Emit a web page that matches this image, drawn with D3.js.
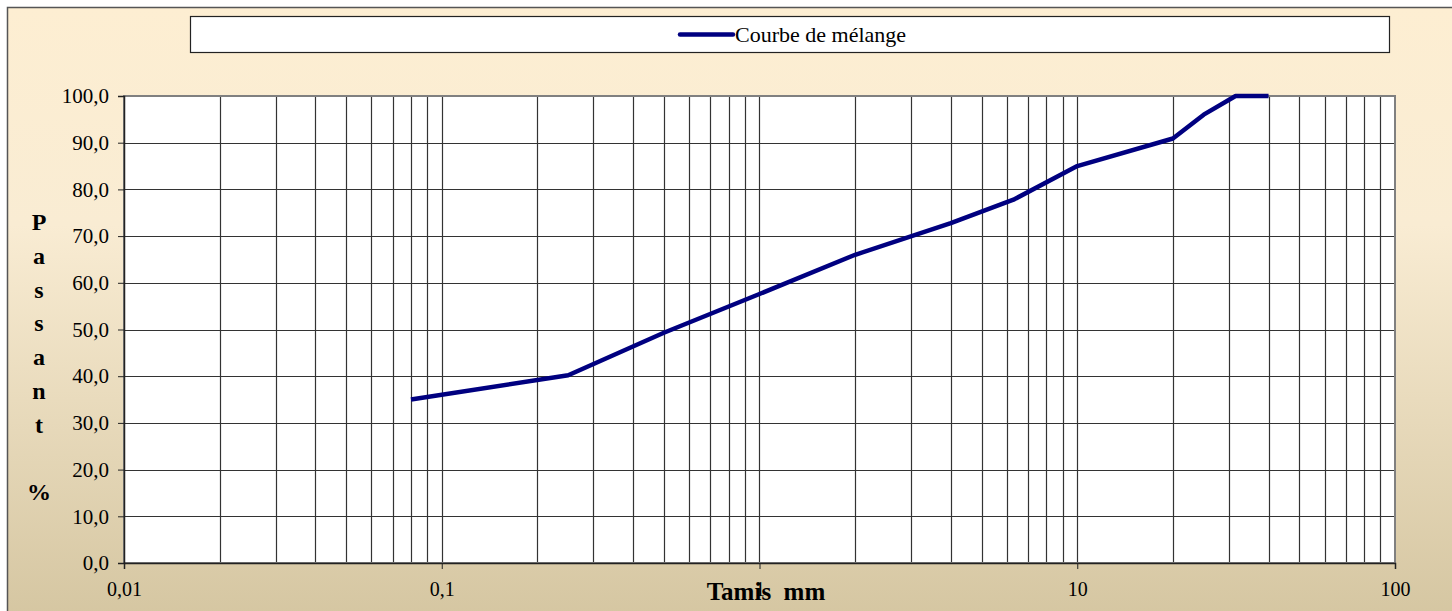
<!DOCTYPE html>
<html>
<head>
<meta charset="utf-8">
<script src="https://cdn.jsdelivr.net/npm/d3@7"></script>
<style>
  body { margin: 0; background: #fff; }
  svg { display: block; }
  svg text { font-family: "Liberation Serif", serif; }
</style>
</head>
<body>
<script>
// sieve sizes (mm) and cumulative passing (%)
var sieves = [0.08, 0.25, 0.5, 1, 2, 4, 6.3, 10, 20, 25, 31.5, 40];
var passing = [35.0, 40.2, 49.3, 57.6, 66.0, 72.8, 77.8, 85.0, 90.9, 96.0, 100, 100];

var xTicks = [0.01, 0.1, 1, 10, 100];
var xTickLabels = ["0,01", "0,1", "1", "10", "100"];
var yTicks = [0, 10, 20, 30, 40, 50, 60, 70, 80, 90, 100];
var seriesName = "Courbe de mélange";
var yTitle = ["P", "a", "s", "s", "a", "n", "t", "", "%"];

var W = 1452, H = 611;
var plot = {left: 124, right: 1395, top: 96, bottom: 563};

var svg = d3.select("body").append("svg")
  .attr("width", W)
  .attr("height", H);

// background gradient
var grad = svg.append("defs").append("linearGradient")
  .attr("id", "bg").attr("x1", 0).attr("y1", 0).attr("x2", 0).attr("y2", 1);
grad.append("stop").attr("offset", "0%").attr("stop-color", "#fdeed2");
grad.append("stop").attr("offset", "35%").attr("stop-color", "#f9ecd3");
grad.append("stop").attr("offset", "100%").attr("stop-color", "#d4c5a0");

svg.append("rect")
  .attr("x", 7.5).attr("y", 7.5)
  .attr("width", W + 10).attr("height", H + 10)
  .attr("fill", "url(#bg)")
  .attr("stroke", "#555").attr("stroke-width", 1.5);

var x = d3.scaleLog().domain([0.01, 100]).range([plot.left, plot.right]);
var y = d3.scaleLinear().domain([0, 100]).range([plot.bottom, plot.top]);

// plot area
svg.append("rect")
  .attr("x", plot.left).attr("y", plot.top)
  .attr("width", plot.right - plot.left).attr("height", plot.bottom - plot.top)
  .attr("fill", "#fff");

// vertical grid on every log step
var minor = x.ticks().filter(function(d) { return d > 0.01 && d < 100; });
svg.append("g").selectAll("line")
  .data(minor)
  .enter().append("line")
    .attr("x1", function(d) { return Math.round(x(d)) + 0.5; })
    .attr("x2", function(d) { return Math.round(x(d)) + 0.5; })
    .attr("y1", plot.top).attr("y2", plot.bottom)
    .attr("stroke", "#333").attr("stroke-width", 1.2);

// horizontal grid
svg.append("g").selectAll("line")
  .data(yTicks.slice(1, -1))
  .enter().append("line")
    .attr("x1", plot.left).attr("x2", plot.right)
    .attr("y1", function(d) { return Math.round(y(d)) + 0.5; })
    .attr("y2", function(d) { return Math.round(y(d)) + 0.5; })
    .attr("stroke", "#333").attr("stroke-width", 1.2);

// plot border
svg.append("rect")
  .attr("x", plot.left).attr("y", plot.top)
  .attr("width", plot.right - plot.left).attr("height", plot.bottom - plot.top)
  .attr("fill", "none").attr("stroke", "#808080").attr("stroke-width", 2);

// y axis
var yAxis = d3.axisLeft(y)
  .tickValues(yTicks)
  .tickSize(6)
  .tickPadding(9)
  .tickFormat(function(d) { return d3.format(".1f")(d).replace(".", ","); });
var gy = svg.append("g")
  .attr("transform", "translate(" + plot.left + ",0)")
  .call(yAxis)
  .attr("font-family", null).attr("font-size", 21);
gy.select(".domain").attr("stroke", "#222").attr("stroke-width", 1.5);
gy.selectAll(".tick line").attr("stroke", "#222");
gy.selectAll("text").attr("fill", "#000");

// x axis
var xAxis = d3.axisBottom(x)
  .tickValues(xTicks)
  .tickSize(6)
  .tickPadding(13)
  .tickFormat(function(d, i) { return xTickLabels[i]; });
var gx = svg.append("g")
  .attr("transform", "translate(0," + plot.bottom + ")")
  .call(xAxis)
  .attr("font-family", null).attr("font-size", 20);
gx.select(".domain").attr("stroke", "#222").attr("stroke-width", 1.5);
gx.selectAll(".tick line").attr("stroke", "#222");
gx.selectAll("text").attr("fill", "#000");

// axis titles
svg.append("text")
  .attr("x", 766).attr("y", 600)
  .attr("text-anchor", "middle")
  .attr("font-size", 25).attr("font-weight", "bold")
  .attr("xml:space", "preserve")
  .text("Tamis  mm");

svg.append("g").selectAll("text")
  .data(yTitle)
  .enter().append("text")
    .attr("x", 39)
    .attr("y", function(d, i) { return 230 + i * 33.8; })
    .attr("text-anchor", "middle")
    .attr("font-size", 24).attr("font-weight", "bold")
    .text(function(d) { return d; });

// curve
var data = sieves.map(function(s, i) { return {s: s, p: passing[i]}; });
var line = d3.line()
  .x(function(d) { return x(d.s); })
  .y(function(d) { return y(d.p); });
svg.append("path")
  .datum(data)
  .attr("d", line)
  .attr("fill", "none")
  .attr("stroke", "#000080")
  .attr("stroke-width", 4.5)
  .attr("stroke-linejoin", "round");

// legend
var legend = svg.append("g");
legend.append("rect")
  .attr("x", 190.5).attr("y", 16.5)
  .attr("width", 1199).attr("height", 36)
  .attr("fill", "#fff").attr("stroke", "#222").attr("stroke-width", 1.2);
legend.append("line")
  .attr("x1", 680).attr("x2", 733)
  .attr("y1", 34.5).attr("y2", 34.5)
  .attr("stroke", "#000080").attr("stroke-width", 4.5)
  .attr("stroke-linecap", "round");
legend.append("text")
  .attr("x", 735).attr("y", 42)
  .attr("font-size", 22)
  .text(seriesName);
</script>
</body>
</html>
